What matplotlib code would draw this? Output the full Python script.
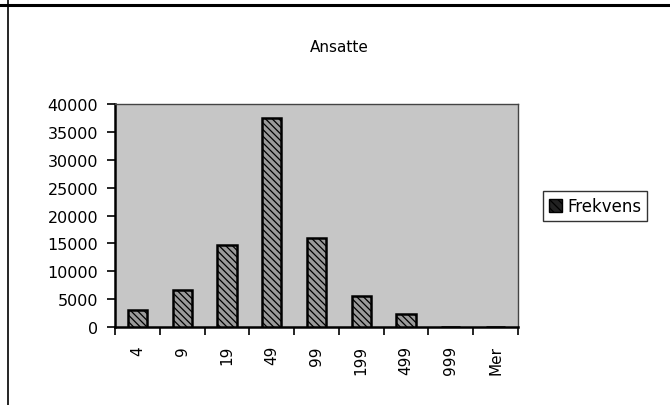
import matplotlib.pyplot as plt
from matplotlib.lines import Line2D
from matplotlib.patches import Patch

# --- Data ---
categories = ["4", "9", "19", "49", "99", "199", "499", "999", "Mer"]
frekvens = [3100, 6650, 14700, 37500, 15900, 5600, 2350, 0, 0]
y_ticks = [0, 5000, 10000, 15000, 20000, 25000, 30000, 35000, 40000]

plt.rcParams["font.family"] = ["DejaVu Sans"]
plt.rcParams["hatch.linewidth"] = 0.9

fig = plt.figure(figsize=(6.7, 4.06), dpi=100)
ax = fig.add_axes([0.1716, 0.192, 0.6015, 0.549])

# --- Stippled grey plot area ---
ax.set_facecolor("#c6c6c6")

x = range(len(categories))
ax.bar(x, frekvens, width=0.43, color="#9a9a9a", edgecolor="black",
       hatch="\\\\\\\\\\", linewidth=1.8, zorder=3)

ax.set_xlim(-0.5, len(categories) - 0.5)
ax.set_ylim(0, 40000)

# --- Ticks: y outward, x at category boundaries ---
ax.set_yticks(y_ticks)
ax.set_yticklabels([str(v) for v in y_ticks], fontsize=11.5)
ax.set_xticks([i - 0.5 for i in range(len(categories) + 1)])
ax.set_xticklabels([])
ax.set_xticks(list(x), minor=True)
ax.set_xticklabels(categories, minor=True, rotation=90, fontsize=11)
ax.tick_params(axis="x", which="major", direction="out", length=6, width=1.2)
ax.tick_params(axis="x", which="minor", length=0, pad=13)
ax.tick_params(axis="y", direction="out", length=6, width=1.2, pad=6)

for side in ["left", "bottom"]:
    ax.spines[side].set_linewidth(1.8)
for side in ["top", "right"]:
    ax.spines[side].set_linewidth(1.0)
    ax.spines[side].set_color("#444444")

fig.text(0.506, 0.882, "Ansatte", ha="center", va="center", fontsize=11)

# --- Legend ---
handle = Patch(facecolor="#222222", edgecolor="black", hatch="\\\\\\\\")
leg = fig.legend([handle], ["Frekvens"], loc="center", bbox_to_anchor=(0.888, 0.49),
                 fontsize=12, frameon=True, fancybox=False, handlelength=0.8,
                 handleheight=0.8, handletextpad=0.3, borderpad=0.35,
                 borderaxespad=0)
leg.get_frame().set_edgecolor("black")
leg.get_frame().set_linewidth(1.0)

# --- Scan border lines ---
fig.add_artist(Line2D([0, 1], [0.985, 0.985], color="black", linewidth=2.2))
fig.add_artist(Line2D([0.012, 0.012], [0, 1], color="black", linewidth=1.2))

fig.savefig("out.png", dpi=100)
